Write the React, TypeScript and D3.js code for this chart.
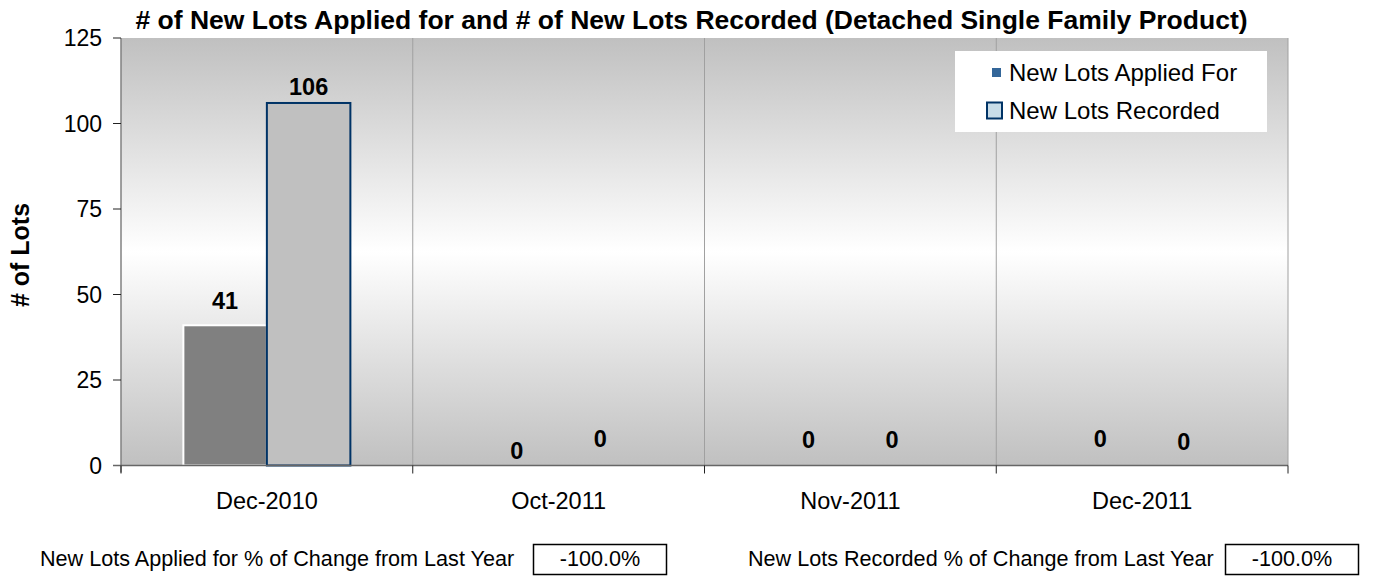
import React from "react";
import * as d3 from "d3";

const categories = ["Dec-2010", "Oct-2011", "Nov-2011", "Dec-2011"];
const appliedValues = [41, 0, 0, 0];
const recordedValues = [106, 0, 0, 0];
const yTicks = [0, 25, 50, 75, 100, 125];
const seriesNames = ["New Lots Applied For", "New Lots Recorded"];
const titleText =
  "# of New Lots Applied for and # of New Lots Recorded (Detached Single Family Product)";
const yAxisTitle = "# of Lots";
const changeLabels = [
  "New Lots Applied for % of Change from Last Year",
  "New Lots Recorded % of Change from Last Year",
];
const changeValues = ["-100.0%", "-100.0%"];

// label vertical nudges (style only), in px above bar top
const appliedLabelNudge = [25, 15, 26, 26.5];
const recordedLabelNudge = [16.5, 26.5, 26, 23.5];

const W = 1374;
const H = 578;
const plot = { left: 121, right: 1288, top: 38, bottom: 465.5 };
const FONT = "Arial, 'Liberation Sans', Helvetica, sans-serif";

export default function App() {
  const x = d3
    .scaleBand<string>()
    .domain(categories)
    .range([plot.left, plot.right])
    .paddingInner(0)
    .paddingOuter(0);
  const y = d3.scaleLinear().domain([0, 125]).range([plot.bottom, plot.top]);
  const bw = x.bandwidth();
  const barW = 83.5;
  const groupOffset = (bw - 2 * barW) / 2;

  const boundaries = categories.map((c) => x(c)!).concat([plot.right]);

  return (
    <svg
      width={W}
      height={H}
      style={{ position: "absolute", left: 0, top: 0, background: "#fff" }}
      fontFamily={FONT}
    >
      <defs>
        <linearGradient id="bg" x1="0" y1="0" x2="0" y2="1">
          <stop offset="0%" stopColor="#c0c0c0" />
          <stop offset="50%" stopColor="#ffffff" />
          <stop offset="100%" stopColor="#c0c0c0" />
        </linearGradient>
      </defs>
      <rect x={0} y={0} width={W} height={H} fill="#fff" />
      {/* plot background */}
      <rect
        x={plot.left}
        y={plot.top}
        width={plot.right - plot.left}
        height={plot.bottom - plot.top}
        fill="url(#bg)"
      />
      {/* vertical category dividers */}
      {boundaries.slice(1).map((bx, i) => (
        <line
          key={"v" + i}
          x1={bx}
          x2={bx}
          y1={plot.top}
          y2={plot.bottom}
          stroke="#a0a0a0"
          strokeWidth={1}
        />
      ))}
      {/* title */}
      <text
        x={691.5}
        y={29}
        textAnchor="middle"
        fontWeight="bold"
        fontSize={26.5}
        fill="#000"
      >
        {titleText}
      </text>
      {/* bars */}
      {categories.map((c, i) => {
        const x0 = x(c)! + groupOffset;
        return (
          <g key={c}>
            {appliedValues[i] > 0 && (
              <rect
                x={x0}
                y={y(appliedValues[i])}
                width={barW}
                height={y(0) - y(appliedValues[i])}
                fill="#808080"
                stroke="#ffffff"
                strokeWidth={2}
              />
            )}
            {recordedValues[i] > 0 && (
              <rect
                x={x0 + barW}
                y={y(recordedValues[i])}
                width={barW}
                height={y(0) - y(recordedValues[i])}
                fill="#c0c0c0"
                stroke="#003366"
                strokeWidth={2}
              />
            )}
            <text
              x={x0 + barW / 2}
              y={y(appliedValues[i]) - appliedLabelNudge[i]}
              dy="0.35em"
              textAnchor="middle"
              fontWeight="bold"
              fontSize={23.5}
            >
              {appliedValues[i]}
            </text>
            <text
              x={x0 + barW * 1.5}
              y={y(recordedValues[i]) - recordedLabelNudge[i]}
              dy="0.35em"
              textAnchor="middle"
              fontWeight="bold"
              fontSize={23.5}
            >
              {recordedValues[i]}
            </text>
          </g>
        );
      })}
      {/* y axis */}
      <line
        x1={plot.left}
        x2={plot.left}
        y1={plot.top}
        y2={plot.bottom + 7}
        stroke="#808080"
        strokeWidth={1.5}
      />
      {yTicks.map((t) => (
        <g key={"yt" + t}>
          <line
            x1={plot.left - 8}
            x2={plot.left}
            y1={y(t)}
            y2={y(t)}
            stroke="#222"
            strokeWidth={1}
          />
          <text
            x={102}
            y={y(t)}
            dy="0.35em"
            textAnchor="end"
            fontSize={23}
            fill="#000"
          >
            {t}
          </text>
        </g>
      ))}
      {/* x axis */}
      <line
        x1={plot.left - 8}
        x2={plot.right}
        y1={plot.bottom}
        y2={plot.bottom}
        stroke="#666"
        strokeWidth={1.5}
      />
      {boundaries.map((bx, i) => (
        <line
          key={"xt" + i}
          x1={bx}
          x2={bx}
          y1={plot.bottom}
          y2={plot.bottom + 8}
          stroke="#222"
          strokeWidth={1}
        />
      ))}
      {categories.map((c) => (
        <text
          key={"xl" + c}
          x={x(c)! + bw / 2}
          y={509}
          textAnchor="middle"
          fontSize={23.5}
          fill="#000"
        >
          {c}
        </text>
      ))}
      {/* y axis title */}
      <text
        transform={`translate(29,255) rotate(-90)`}
        textAnchor="middle"
        fontWeight="bold"
        fontSize={25}
      >
        {yAxisTitle}
      </text>
      {/* legend */}
      <rect x={955} y={51} width={312} height={81} fill="#ffffff" />
      <rect x={992} y={68} width={9} height={9} fill="#336699" />
      <text x={1009} y={80.5} fontSize={24}>
        {seriesNames[0]}
      </text>
      <rect
        x={987}
        y={102.5}
        width={15}
        height={16}
        fill="#c8dce8"
        stroke="#003366"
        strokeWidth={2}
      />
      <text x={1009} y={119} fontSize={24}>
        {seriesNames[1]}
      </text>
      {/* bottom change boxes */}
      <text x={40} y={566} fontSize={21.6}>
        {changeLabels[0]}
      </text>
      <rect
        x={533.5}
        y={544.5}
        width={133}
        height={30}
        fill="#fff"
        stroke="#000"
        strokeWidth={1.5}
      />
      <text x={600} y={566} textAnchor="middle" fontSize={21.6}>
        {changeValues[0]}
      </text>
      <text x={748} y={566} fontSize={21.6}>
        {changeLabels[1]}
      </text>
      <rect
        x={1225.5}
        y={544.5}
        width={133}
        height={30}
        fill="#fff"
        stroke="#000"
        strokeWidth={1.5}
      />
      <text x={1292} y={566} textAnchor="middle" fontSize={21.6}>
        {changeValues[1]}
      </text>
    </svg>
  );
}
